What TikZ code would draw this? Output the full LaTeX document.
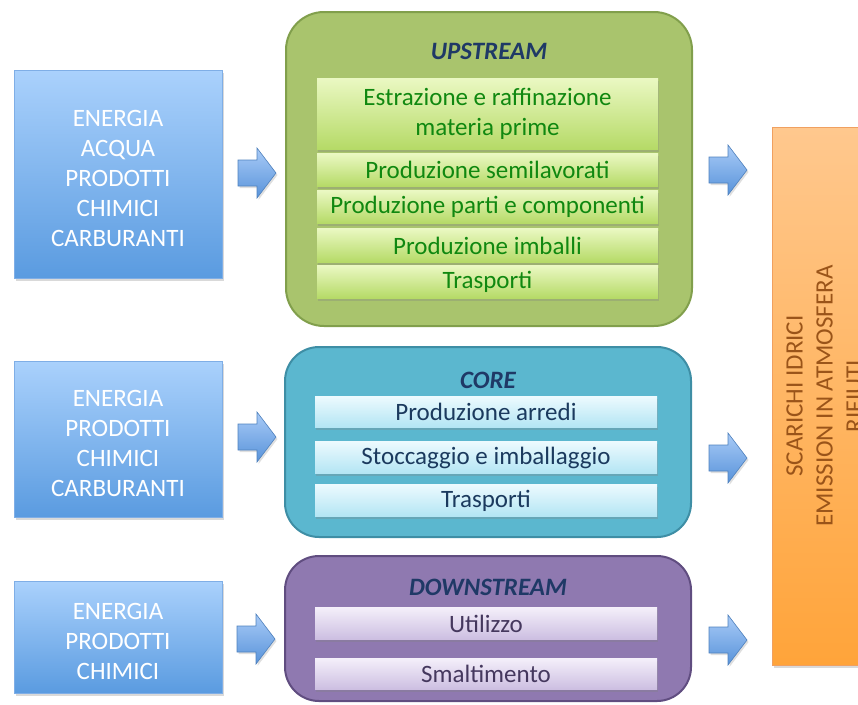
\documentclass[tikz,border=0pt]{standalone}
\usepackage{fontspec}
\setmainfont{Carlito}
\usetikzlibrary{shadows}
\definecolor{intop}{HTML}{AAD1FC}
\definecolor{inbot}{HTML}{5A9BE0}
\definecolor{inedge}{HTML}{7FAEE6}
\definecolor{artop}{HTML}{A9CBF7}
\definecolor{arbot}{HTML}{5893DA}
\definecolor{aredge}{HTML}{4F81BD}
\definecolor{upfill}{HTML}{A9C46D}
\definecolor{upedge}{HTML}{819F4C}
\definecolor{gtop}{HTML}{EAF8C2}
\definecolor{gbot}{HTML}{B5DA66}
\definecolor{gtext}{HTML}{108810}
\definecolor{titlec}{HTML}{1F3966}
\definecolor{cofill}{HTML}{5BB7CF}
\definecolor{coedge}{HTML}{3E8EA5}
\definecolor{ctop}{HTML}{ECFAFE}
\definecolor{cbot}{HTML}{B3E5F4}
\definecolor{ctext}{HTML}{1B3A5E}
\definecolor{dofill}{HTML}{8F79B0}
\definecolor{doedge}{HTML}{604D80}
\definecolor{dtop}{HTML}{F4EFFA}
\definecolor{dbot}{HTML}{CCBEE1}
\definecolor{dtext}{HTML}{45385E}
\definecolor{ortop}{HTML}{FFC88E}
\definecolor{orbot}{HTML}{FFA43A}
\definecolor{oredge}{HTML}{F0A060}
\definecolor{ortext}{HTML}{9A5419}
\newcommand{\blockarrow}[2]{%
  \draw[arrowshape] (#1,#2-13) -- (#1+19,#2-13) -- (#1+19,#2-25) -- (#1+38,#2)
    -- (#1+19,#2+25) -- (#1+19,#2+13) -- (#1,#2+13) -- cycle;}
\begin{document}
\begin{tikzpicture}[x=1pt,y=-1pt,
  txt/.style={font=\fontsize{25}{30}\selectfont, align=center},
  inbox/.style={draw=inedge, line width=0.5pt, top color=intop, bottom color=inbot,
    minimum width=208pt, inner sep=0pt,
    drop shadow={shadow xshift=2pt, shadow yshift=-3pt, opacity=0.3}},
  intext/.style={txt, text=white, inner sep=0pt},
  arrowshape/.style={draw=aredge, line width=0.6pt, top color=artop, bottom color=arbot,
    drop shadow={shadow xshift=1.5pt, shadow yshift=-2pt, opacity=0.25}},
  phase/.style={rounded corners=38pt, line width=2pt, minimum width=406pt, inner sep=0pt},
  ptitle/.style={font=\fontsize{25}{30}\selectfont\bfseries\itshape, text=titlec, anchor=base},
  bar/.style={txt, inner sep=0pt,
    drop shadow={shadow xshift=1pt, shadow yshift=-2.5pt, opacity=0.3}},
  gbar/.style={bar, minimum width=341pt, top color=gtop, bottom color=gbot, text=gtext},
  cbar/.style={bar, minimum width=342pt, top color=ctop, bottom color=cbot, text=ctext},
  dbar/.style={bar, minimum width=342pt, top color=dtop, bottom color=dbot, text=dtext},
]
\useasboundingbox (0,0) rectangle (858,704);
\clip (0,0) rectangle (858,704);

% input boxes
\node[inbox, minimum height=208pt] (in1) at (118,174) {};
\node[intext] (in1t) at (118,178) {ENERGIA\\ACQUA\\PRODOTTI\\CHIMICI\\CARBURANTI};
\node[inbox, minimum height=156pt] (in2) at (118,439) {};
\node[intext] (in2t) at (118,443) {ENERGIA\\PRODOTTI\\CHIMICI\\CARBURANTI};
\node[inbox, minimum height=112pt] (in3) at (118,637) {};
\node[intext] (in3t) at (118,641) {ENERGIA\\PRODOTTI\\CHIMICI};

% phase containers
\node[phase, minimum height=314pt, fill=upfill, draw=upedge] (up) at (489,169) {};
\node[ptitle] (uptitle) at (489,59) {UPSTREAM};
\node[gbar, minimum height=71pt] (g1) at (487.5,114) {Estrazione e raffinazione\\materia prime};
\node[gbar, minimum height=33pt] (g2) at (487.5,170) {Produzione semilavorati};
\node[gbar, minimum height=33pt] (g3) at (487.5,207) {Produzione parti e componenti};
\node[gbar, minimum height=34pt] (g4) at (487.5,245.5) {Produzione imballi};
\node[gbar, minimum height=33pt] (g5) at (487.5,282) {Trasporti};

\node[phase, rounded corners=34pt, minimum height=190pt, fill=cofill, draw=coedge] (core) at (488,442) {};
\node[ptitle] (cotitle) at (488,388) {CORE};
\node[cbar, minimum height=31pt] (c1) at (486,412) {Produzione arredi};
\node[cbar, minimum height=32pt] (c2) at (486,457.5) {Stoccaggio e imballaggio};
\node[cbar, minimum height=32pt] (c3) at (486,500.5) {Trasporti};

\node[phase, rounded corners=34pt, minimum height=145pt, fill=dofill, draw=doedge] (down) at (488,628.5) {};
\node[ptitle] (dotitle) at (488,595) {DOWNSTREAM};
\node[dbar, minimum height=32pt] (d1) at (486,623.5) {Utilizzo};
\node[dbar, minimum height=31pt] (d2) at (486,674) {Smaltimento};

% output bar
\node[draw=oredge, line width=0.5pt, top color=ortop, bottom color=orbot,
  minimum width=104pt, minimum height=538pt, inner sep=0pt,
  drop shadow={shadow xshift=2pt, shadow yshift=-3pt, opacity=0.3}] (out) at (824,396) {};
\node[txt, text=ortext, rotate=90] (outtext) at (824.5,396) {SCARICHI IDRICI\\EMISSION IN ATMOSFERA\\RIFIUTI};

% block arrows
\blockarrow{238}{173}
\blockarrow{238}{437}
\blockarrow{237}{639}
\blockarrow{709}{170}
\blockarrow{709}{458}
\blockarrow{709}{640}
\end{tikzpicture}
\end{document}
